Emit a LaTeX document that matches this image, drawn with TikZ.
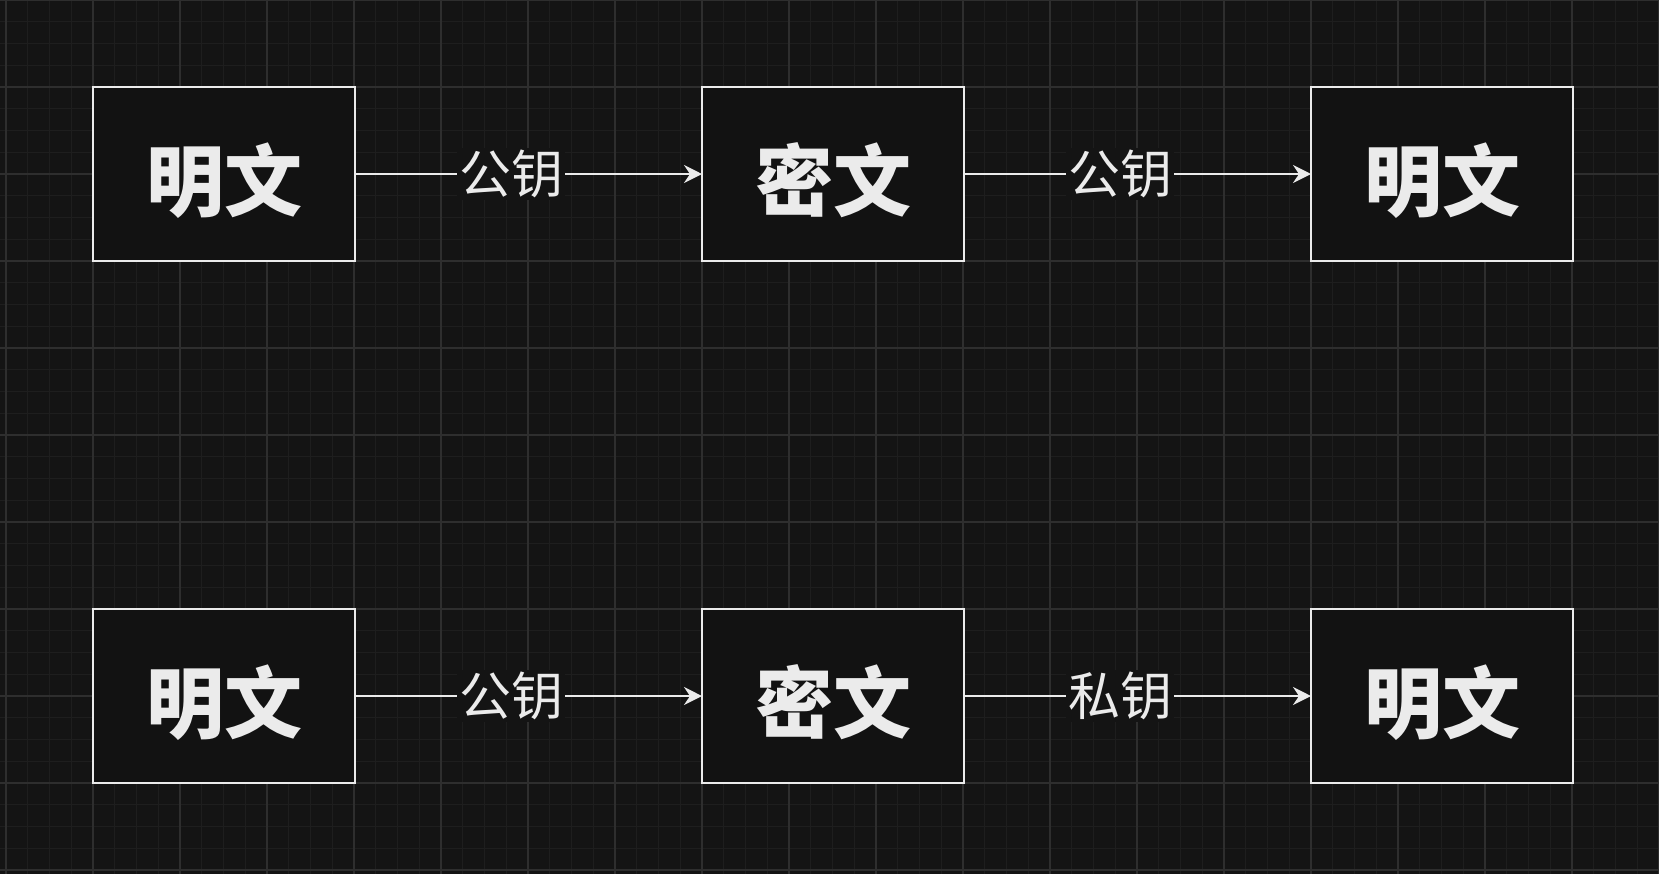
\documentclass[tikz,border=0pt]{standalone}
\usepackage{fontspec}
\newfontfamily\cjk{Noto Sans CJK SC}
\usetikzlibrary{arrows.meta, positioning}
\definecolor{bgc}{HTML}{141414}
\definecolor{boxc}{HTML}{121212}
\definecolor{minc}{HTML}{1E1E1E}
\definecolor{majc}{HTML}{2E2E2E}
\definecolor{inkc}{HTML}{EBEBEB}
\tikzset{
  txt/.style  = {rectangle, draw=inkc, line width=1pt, fill=boxc, minimum width=131pt, minimum height=87pt,
                 inner sep=0pt, outer sep=0pt, text height=41pt, text depth=4.8pt, text=inkc,
                 font=\cjk\bfseries\fontsize{39pt}{39pt}\selectfont},
  key/.style  = {fill=bgc, inner sep=1pt, text=inkc, font=\cjk\fontsize{26pt}{26pt}\selectfont},
  enc/.style  = {-{Stealth[length=9pt, width=9pt, inset=3pt]}, draw=inkc, line width=1pt},
  gmin/.style = {draw=minc, line width=0.5pt},
  gmaj/.style = {draw=majc, line width=1pt}
}

\begin{document}
\begin{tikzpicture}[x=0.5pt, y=-0.5pt, node distance=174pt and 173.5pt]
%% ===== background grid =====
\fill[bgc] (0,0) rectangle (1659,874);
\useasboundingbox (0,0) rectangle (1659,874);
\foreach \i in {0,...,76} \draw[gmin] ({6+21.75*\i},0) -- ++(0,874);
\foreach \j in {0,...,40} \draw[gmin] (0,{21.75*\j}) -- ++(1659,0);
\foreach \i in {0,...,19} \draw[gmaj] ({6+87*\i},0) -- ++(0,874);
\foreach \j in {0,...,10} \draw[gmaj] (0,{87*\j}) -- ++(1659,0);
%% ===== top row =====
\node[txt] (p1) at (224,174) {明文};
\node[txt, right=of p1] (c1) {密文};
\node[txt, right=of c1] (q1) {明文};
\draw[enc] (p1) -- node[key, pos=0.45]{公钥} (c1);
\draw[enc] (c1) -- node[key, pos=0.45]{公钥} (q1);
%% ===== bottom row =====
\node[txt, below=of p1] (p2) {明文};
\node[txt, right=of p2] (c2) {密文};
\node[txt, right=of c2] (q2) {明文};
\draw[enc] (p2) -- node[key, pos=0.45]{公钥} (c2);
\draw[enc] (c2) -- node[key, pos=0.45]{私钥} (q2);
\end{tikzpicture}
\end{document}
